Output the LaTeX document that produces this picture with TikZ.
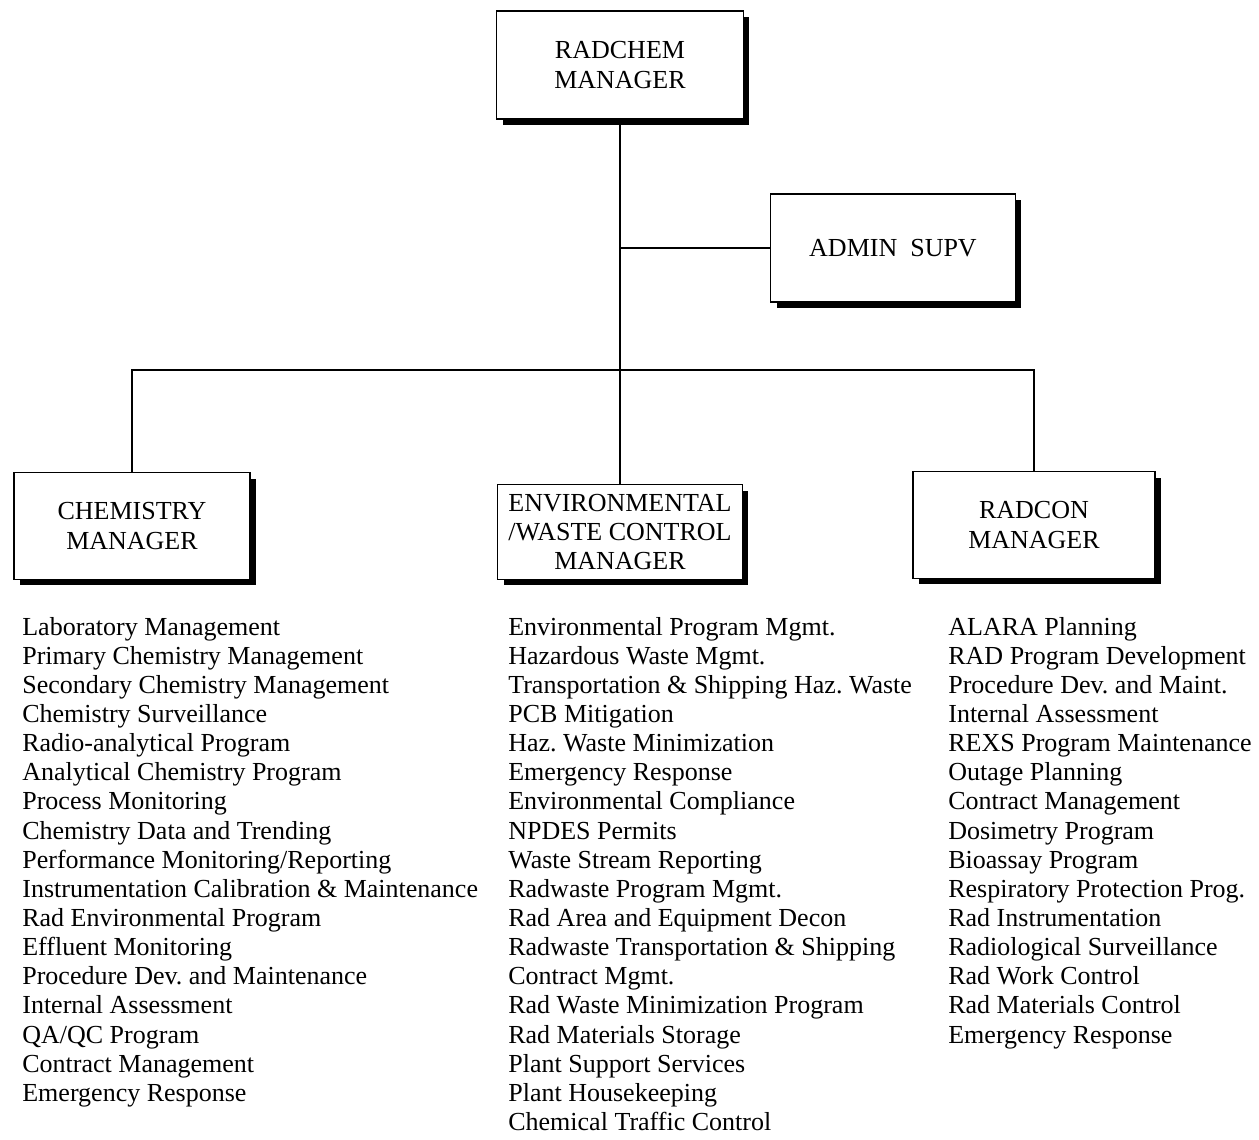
\documentclass[tikz,border=0pt]{standalone}
\usepackage{fontspec}
\setmainfont{Liberation Serif}
\usetikzlibrary {positioning}
\usetikzlibrary {shadows}

\begin{document}
\frenchspacing
\begin{tikzpicture}[x=0.02cm,y=-0.02cm,
        mgr/.style={rectangle,draw,line width=1.1pt,fill=white,align=center,inner sep=0pt,
            font=\fontsize{14.8pt}{16.6pt}\selectfont,
            drop shadow={shadow xshift=0.12cm,shadow yshift=-0.12cm,opacity=1,fill=black}},
        item/.style={anchor=base west,inner sep=0pt,font=\fontsize{14.8pt}{16.6pt}\selectfont},
        link/.style={line width=1.1pt}]

            %\draw [help lines] (0,0) grid (1259,1140);
            \useasboundingbox (0,0) rectangle (1259,1140);

            \path   (620,65)  node (radchem) [mgr,minimum width=4.94cm,minimum height=2.16cm] {RADCHEM\\MANAGER}
                    (893,248) node (admin) [mgr,minimum width=4.9cm,minimum height=2.16cm] {ADMIN\ \ SUPV}
                    (132,526) node (chem) [mgr,minimum width=4.72cm,minimum height=2.14cm] {CHEMISTRY\\MANAGER}
                    (620,532) node (env) [mgr,minimum width=4.9cm,minimum height=1.9cm] {ENVIRONMENTAL\\/WASTE CONTROL\\MANAGER}
                    (1034,525) node (radcon) [mgr,minimum width=4.84cm,minimum height=2.14cm] {RADCON\\MANAGER};

            \coordinate (bus) at (620,370);

            \draw[link] (radchem.south) -- (env.north);
            \draw[link] (radchem.south |- admin.west) -- (admin.west);
            \draw[link] (chem.north) |- (bus) -| (radcon.north);

            % duties under each manager
            \foreach \t [count=\i] in {Laboratory Management,Primary Chemistry Management,
                    Secondary Chemistry Management,Chemistry Surveillance,Radio-analytical Program,
                    Analytical Chemistry Program,Process Monitoring,Chemistry Data and Trending,
                    Performance Monitoring/Reporting,Instrumentation Calibration \& Maintenance,
                    Rad Environmental Program,Effluent Monitoring,Procedure Dev. and Maintenance,
                    Internal Assessment,QA/QC Program,Contract Management,Emergency Response}
                \node (chem\i) [item] at (22,{635+29.15*(\i-1)}) {\t};

            \foreach \t [count=\i] in {Environmental Program Mgmt.,Hazardous Waste Mgmt.,
                    Transportation \& Shipping Haz. Waste,PCB Mitigation,Haz. Waste Minimization,
                    Emergency Response,Environmental Compliance,NPDES Permits,Waste Stream Reporting,
                    Radwaste Program Mgmt.,Rad Area and Equipment Decon,
                    Radwaste Transportation \& Shipping,Contract Mgmt.,Rad Waste Minimization Program,
                    Rad Materials Storage,Plant Support Services,Plant Housekeeping,
                    Chemical Traffic Control}
                \node (env\i) [item] at (508,{635+29.15*(\i-1)}) {\t};

            \foreach \t [count=\i] in {ALARA Planning,RAD Program Development,
                    Procedure Dev. and Maint.,Internal Assessment,REXS Program Maintenance,
                    Outage Planning,Contract Management,Dosimetry Program,Bioassay Program,
                    Respiratory Protection Prog.,Rad Instrumentation,Radiological Surveillance,
                    Rad Work Control,Rad Materials Control,Emergency Response}
                \node (radcon\i) [item] at (948,{635+29.15*(\i-1)}) {\t};

\end{tikzpicture}
\end{document}
